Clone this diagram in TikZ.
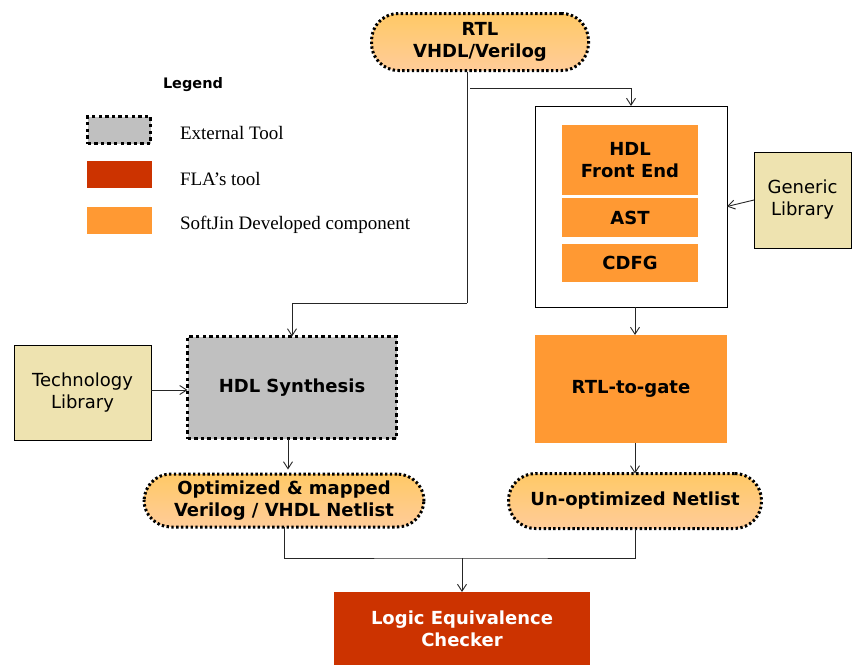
\documentclass[tikz,border=0pt]{standalone}
\usepackage{fontspec}
\setmainfont{DejaVu Sans}
\newfontfamily\legendfont{Liberation Serif}
\usepackage{tikz}
\usetikzlibrary{arrows.meta}

\definecolor{sjorange}{HTML}{FF9933}
\definecolor{flared}{HTML}{CC3300}
\definecolor{extgrey}{HTML}{C0C0C0}
\definecolor{libtan}{HTML}{EEE3B0}
\definecolor{pilltop}{HTML}{FFC966}
\definecolor{pillbot}{HTML}{FFCC99}

\begin{document}
\begin{tikzpicture}[x=1pt,y=-1pt,
  every node/.style={outer sep=0pt, inner sep=2pt, align=center, font=\fontsize{18}{22}\selectfont\bfseries},
  pill/.style={rounded corners=27pt, top color=pilltop, bottom color=pillbot, draw=black, line width=3pt, dash pattern=on 2.4pt off 2.4pt},
  exttool/.style={fill=extgrey, draw=black, line width=3.6pt, dash pattern=on 3.4pt off 3.2pt},
  flatool/.style={fill=flared, text=white},
  sjbox/.style={fill=sjorange},
  library/.style={fill=libtan, draw=black, line width=0.9pt, font=\fontsize{18}{22}\selectfont},
  legtext/.style={anchor=west, font=\fontsize{19}{21}\selectfont\legendfont},
  flow/.style={draw=black!85, line width=0.9pt, -{Straight Barb[length=7pt,width=9pt]}},
  wire/.style={draw=black!85, line width=0.9pt}]
\useasboundingbox (0,0) rectangle (852,665);

% legend
\node (legtitle) at (193,85) {\fontsize{14.5}{16}\selectfont Legend};
\node[exttool, minimum width=63pt, minimum height=27pt] (legext) at (119,130) {};
\node[flatool, minimum width=65pt, minimum height=27pt] (legfla) at (119.5,174.5) {};
\node[sjbox, minimum width=65pt, minimum height=27pt] (legsj) at (119.5,220.5) {};
\node[legtext] (legexttxt) at (178,133) {External Tool};
\node[legtext] (legflatxt) at (178,179) {FLA’s tool};
\node[legtext] (legsjtxt) at (178,225) {SoftJin Developed component};

% top input
\node[pill, minimum width=217pt, minimum height=57pt] (rtl) at (480,42) {RTL\\VHDL/Verilog};

% front end block
\node[draw=black, line width=0.9pt, fill=white, minimum width=192pt, minimum height=201pt] (frontbox) at (631,206.5) {};
\node[sjbox, minimum width=136pt, minimum height=70pt] (hdlfe) at (630,160) {HDL\\Front End};
\node[sjbox, minimum width=136pt, minimum height=39pt] (ast) at (630,217.5) {AST};
\node[sjbox, minimum width=136pt, minimum height=38pt] (cdfg) at (630,263) {CDFG};
\node[library, minimum width=97pt, minimum height=96pt] (genlib) at (802.5,200) {Generic\\Library};

% synthesis side
\node[library, minimum width=137pt, minimum height=95pt] (techlib) at (82.5,392.5) {Technology\\Library};
\node[exttool, minimum width=209pt, minimum height=102pt] (synth) at (292,387.5) {HDL Synthesis};
\node[sjbox, minimum width=192pt, minimum height=108pt] (rtlgate) at (631,389) {RTL-to-gate};

% netlists
\node[pill, minimum width=280pt, minimum height=53pt] (optnet) at (284,500.5) {Optimized \& mapped\\Verilog / VHDL Netlist};
\node[pill, minimum width=253pt, minimum height=55pt] (unopt) at (635,501) {Un-optimized Netlist};

% checker
\node[flatool, minimum width=256pt, minimum height=73pt] (lec) at (462,628.5) {Logic Equivalence\\Checker};

% connectors
\coordinate (rtlout) at (467,72);
\coordinate (bend) at (467,303);
\coordinate (split) at (470,88);
\coordinate (merge) at (462,558);
\draw[wire] (rtlout) -- (bend);
\draw[flow] (bend) -| (synth.north);
\draw[flow] (split) -| (frontbox.north);
\draw[flow] (genlib.west) -- (frontbox.east);
\draw[flow] (techlib.east |- 0,390) -- (synth.west |- 0,390);
\draw[flow] (frontbox.south -| unopt.north) -- (rtlgate.north -| unopt.north);
\draw[flow] (synth.south -| optnet.north) ++(4,0) -- ++(0,31);
\draw[flow] (rtlgate.south -| unopt.north) -- (unopt.north);
\draw[wire] (optnet.south) |- (merge) -| (unopt.south);
\draw[flow] (merge) -- (lec.north);
\end{tikzpicture}
\end{document}
